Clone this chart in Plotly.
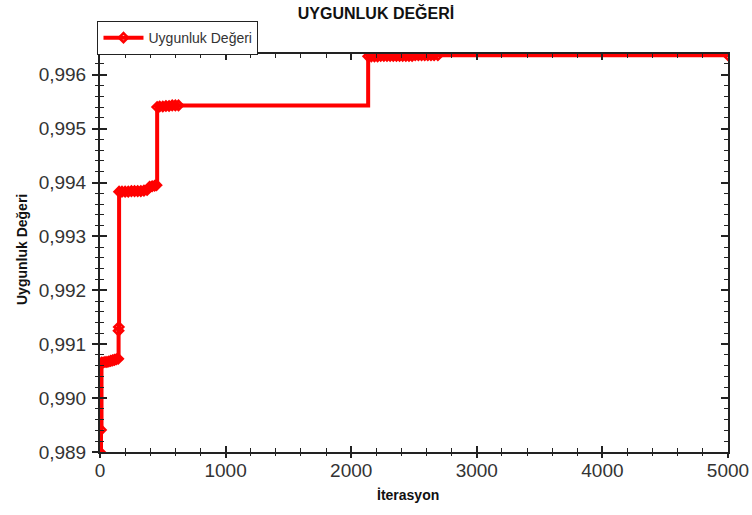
import plotly.graph_objects as go

# Best fitness value recorded at each improving iteration
iterasyon = [
    0, 8, 12, 25, 40, 55, 70, 85, 100, 115, 130, 145, 148, 150, 152,
    175, 200, 225, 250, 275, 300, 325, 350, 375, 395, 415, 435, 450,
    455, 475, 500, 525, 550, 575, 600, 625,
    2135, 2160, 2185, 2210, 2235, 2260, 2285, 2310, 2335, 2360, 2385,
    2410, 2435, 2460, 2485, 2510, 2535, 2560, 2585, 2610, 2635, 2660, 2690,
    5000,
]
uygunluk = [
    0.98900, 0.98941, 0.99066, 0.99066, 0.99067, 0.99067, 0.99068, 0.99069,
    0.99070, 0.99071, 0.99072, 0.99073, 0.99125, 0.99132, 0.99383,
    0.99383, 0.99383, 0.99383, 0.99384, 0.99384, 0.99384, 0.99384, 0.99385,
    0.99386, 0.99392, 0.99393, 0.99394, 0.99395,
    0.99540, 0.99541, 0.99541, 0.99542, 0.99542, 0.99543, 0.99543, 0.99543,
    0.99634, 0.99634, 0.99634, 0.99634, 0.99635, 0.99635, 0.99635, 0.99635,
    0.99635, 0.99635, 0.99635, 0.99635, 0.99635, 0.99635, 0.99635, 0.99636,
    0.99636, 0.99636, 0.99636, 0.99636, 0.99636, 0.99636, 0.99636,
    0.99636,
]

x_range = [0, 5000]
y_range = [0.989, 0.996384]

FONT = "Liberation Sans, Arial, sans-serif"
RED = "#ff0000"
AXIS = "#222222"
TICKTXT = "#333333"

fig = go.Figure()

fig.add_trace(go.Scatter(
    x=iterasyon, y=uygunluk,
    mode="lines+markers",
    name="Uygunluk Değeri",
    line=dict(color=RED, width=4, shape="hv"),
    marker=dict(symbol="diamond-open", size=7, color=RED,
                line=dict(color=RED, width=2.5)),
    cliponaxis=True,
))

# Companion axes carry the outward half of the tick marks and the labels
fig.add_trace(go.Scatter(
    x=[None], y=[None], xaxis="x2", yaxis="y2",
    mode="lines", showlegend=False, hoverinfo="skip",
))

fig.update_layout(
    width=752, height=515,
    margin=dict(l=100, r=24, t=54, b=63, autoexpand=False),
    paper_bgcolor="white", plot_bgcolor="white",
    separators=",.",
    font=dict(family=FONT, color=TICKTXT),
    title=dict(
        text="<b>UYGUNLUK DEĞERİ</b>",
        xref="container", x=0.5, xanchor="center",
        yref="container", y=1 - 13 / 515, yanchor="middle",
        font=dict(family=FONT, size=16, color="#111111"),
    ),
    showlegend=True,
    legend=dict(
        x=-0.004, xanchor="left", y=1.04, yanchor="middle",
        bgcolor="white", bordercolor=AXIS, borderwidth=1,
        font=dict(family=FONT, size=14, color="#333333"),
        itemwidth=40,
    ),
    xaxis=dict(
        range=x_range, tick0=0, dtick=1000, automargin=False,
        showline=True, linecolor=AXIS, linewidth=1.5, mirror="allticks",
        ticks="inside", ticklen=6, tickcolor=AXIS, tickwidth=1.5,
        minor=dict(ticks="inside", ticklen=4, tick0=0, dtick=200,
                   tickcolor=AXIS, tickwidth=1.2),
        showticklabels=False, showgrid=False, zeroline=False,
    ),
    yaxis=dict(
        range=y_range, tick0=0.989, dtick=0.001, automargin=False,
        showline=True, linecolor=AXIS, linewidth=1.5, mirror="allticks",
        ticks="inside", ticklen=7, tickcolor=AXIS, tickwidth=1.5,
        minor=dict(ticks="inside", ticklen=4, tick0=0.989, dtick=0.0002,
                   tickcolor=AXIS, tickwidth=1.2),
        showticklabels=False, showgrid=False, zeroline=False,
    ),
    xaxis2=dict(
        overlaying="x", anchor="y2", side="bottom", matches="x",
        range=x_range, tick0=0, dtick=1000, automargin=False,
        showline=False,
        ticks="outside", ticklen=5, tickcolor=AXIS, tickwidth=1.5,
        minor=dict(ticks="outside", ticklen=3, tick0=0, dtick=200,
                   tickcolor=AXIS, tickwidth=1.2),
        tickfont=dict(family=FONT, size=19, color=TICKTXT),
        ticklabelstandoff=-4,
        showgrid=False, zeroline=False,
    ),
    yaxis2=dict(
        overlaying="y", anchor="x2", side="left", matches="y",
        range=y_range, tick0=0.989, dtick=0.001, tickformat=".3f",
        automargin=False,
        showline=False,
        ticks="outside", ticklen=7, tickcolor=AXIS, tickwidth=1.5,
        minor=dict(ticks="outside", ticklen=4, tick0=0.989, dtick=0.0002,
                   tickcolor=AXIS, tickwidth=1.2),
        tickfont=dict(family=FONT, size=19, color=TICKTXT),
        ticklabelstandoff=2,
        showgrid=False, zeroline=False,
    ),
    annotations=[
        dict(text="<b>İterasyon</b>", xref="paper", yref="paper",
             x=(408 - 100) / 628, y=-(495 - 452) / 398,
             xanchor="center", yanchor="middle", showarrow=False,
             font=dict(family=FONT, size=14, color="#111111")),
        dict(text="<b>Uygunluk Değeri</b>", xref="paper", yref="paper",
             x=(22 - 100) / 628, y=(452 - 250) / 398, textangle=-90,
             xanchor="center", yanchor="middle", showarrow=False,
             font=dict(family=FONT, size=14, color="#111111")),
    ],
)

fig.write_html("out.html")
